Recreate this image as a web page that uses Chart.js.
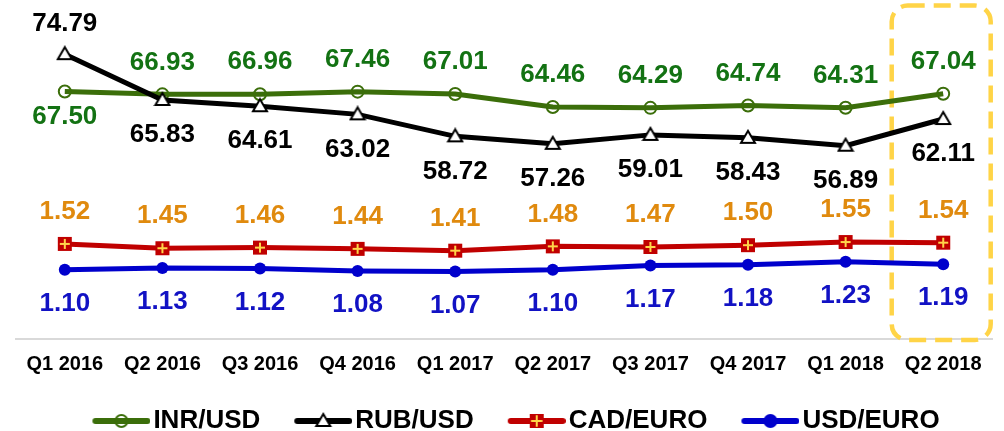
<!DOCTYPE html>
<html>
<head>
<meta charset="utf-8">
<script src="https://cdn.jsdelivr.net/npm/chart.js@4.4.1/dist/chart.umd.min.js"></script>
<style>
  html, body { margin: 0; padding: 0; background: #fff; }
  #wrap { width: 1004px; height: 431px; }
</style>
</head>
<body>
<div id="wrap"><canvas id="fxChart" width="1004" height="431"></canvas></div>
<script>
// data
const quarters = ["Q1 2016", "Q2 2016", "Q3 2016", "Q4 2016", "Q1 2017", "Q2 2017", "Q3 2017", "Q4 2017", "Q1 2018", "Q2 2018"];
const inrUsd  = [67.50, 66.93, 66.96, 67.46, 67.01, 64.46, 64.29, 64.74, 64.31, 67.04];
const rubUsd  = [74.79, 65.83, 64.61, 63.02, 58.72, 57.26, 59.01, 58.43, 56.89, 62.11];
const cadEuro = [1.52, 1.45, 1.46, 1.44, 1.41, 1.48, 1.47, 1.50, 1.55, 1.54];
const usdEuro = [1.10, 1.13, 1.12, 1.08, 1.07, 1.10, 1.17, 1.18, 1.23, 1.19];

const FONT = "'Liberation Sans', Arial, sans-serif";

// markers
function circleMark(g, x, y, stroke, fill) {
  g.beginPath();
  g.arc(x, y, 6, 0, Math.PI * 2);
  if (fill) { g.fillStyle = fill; g.fill(); }
  g.lineWidth = 2; g.strokeStyle = stroke; g.stroke();
}
function triMark(g, x, y) {
  g.beginPath();
  g.moveTo(x, y - 7); g.lineTo(x + 7, y + 5); g.lineTo(x - 7, y + 5); g.closePath();
  g.fillStyle = "#fff"; g.fill();
  g.lineWidth = 2; g.strokeStyle = "#000"; g.stroke();
}
function cadMark(g, x, y) {
  g.fillStyle = "#C00000";
  g.fillRect(x - 7, y - 7, 14, 14);
  g.strokeStyle = "#FFD54A"; g.lineWidth = 2;
  g.beginPath();
  g.moveTo(x, y - 5); g.lineTo(x, y + 5);
  g.moveTo(x - 5, y); g.lineTo(x + 5, y);
  g.stroke();
}
function markCanvas(w, h, draw) {
  const c = document.createElement("canvas");
  c.width = w; c.height = h;
  draw(c.getContext("2d"), w / 2, h / 2);
  return c;
}
function legendIcon(color, draw) {
  const c = document.createElement("canvas");
  c.width = 92; c.height = 22;
  const g = c.getContext("2d");
  g.strokeStyle = color; g.lineWidth = 6; g.lineCap = "round";
  g.beginPath(); g.moveTo(37, 11); g.lineTo(89, 11); g.stroke();
  draw(g, 63, 11);
  return c;
}

const cadPoint = markCanvas(16, 16, cadMark);

const valueLabels = {
  id: "valueLabels",
  afterDatasetsDraw(chart) {
    const ctx = chart.ctx;
    chart.data.datasets.forEach((ds, i) => {
      const meta = chart.getDatasetMeta(i);
      ctx.save();
      ctx.font = "bold 26px " + FONT;
      ctx.fillStyle = ds.labelColor;
      ctx.textAlign = "center";
      ctx.textBaseline = "middle";
      meta.data.forEach((pt, j) => {
        ctx.fillText(ds.data[j].toFixed(2), pt.x, pt.y + ds.labelOffset(j));
      });
      ctx.restore();
    });
  }
};

const highlightBox = {
  id: "highlightBox",
  beforeDatasetsDraw(chart) {
    const ctx = chart.ctx;
    const cx = chart.scales.x.getPixelForValue(quarters.length - 1);
    const left = cx - 51.5, right = cx + 47.5, top = 5.5, bottom = 340;
    ctx.save();
    ctx.strokeStyle = "#FFD447";
    ctx.lineWidth = 4.5;
    ctx.setLineDash([17, 9]);
    ctx.beginPath();
    ctx.roundRect(left, top, right - left, bottom - top, 16);
    ctx.stroke();
    ctx.restore();
  }
};

new Chart(document.getElementById("fxChart"), {
  type: "line",
  data: {
    labels: quarters,
    datasets: [
      {
        label: "INR/USD", data: inrUsd, yAxisID: "y", order: 2,
        borderColor: "#3B6E0A", borderWidth: 5,
        pointStyle: "circle", pointRadius: 6, pointBorderWidth: 2,
        pointBorderColor: "#3B6E0A", pointBackgroundColor: "rgba(0,0,0,0)",
        labelColor: "#137213", labelOffset: j => (j === 0 ? 25 : -32),
        legendIcon: legendIcon("#3B6E0A", (g, x, y) => circleMark(g, x, y, "#3B6E0A", null))
      },
      {
        label: "RUB/USD", data: rubUsd, yAxisID: "y", order: 1,
        borderColor: "#000", borderWidth: 5,
        pointStyle: markCanvas(18, 18, triMark), pointRadius: 7,
        labelColor: "#000", labelOffset: j => (j === 0 ? -30 : 35),
        legendIcon: legendIcon("#000", triMark)
      },
      {
        label: "CAD/EURO", data: cadEuro, yAxisID: "y2", order: 3,
        borderColor: "#C00000", borderWidth: 5,
        pointStyle: cadPoint, pointRadius: 7,
        labelColor: "#E08A0E", labelOffset: () => -32,
        legendIcon: legendIcon("#C00000", cadMark)
      },
      {
        label: "USD/EURO", data: usdEuro, yAxisID: "y2", order: 4,
        borderColor: "#0000CC", borderWidth: 5,
        pointStyle: "circle", pointRadius: 6, pointBorderWidth: 0,
        pointBackgroundColor: "#0000CC",
        labelColor: "#1212C4", labelOffset: () => 34,
        legendIcon: legendIcon("#0000CC", (g, x, y) => circleMark(g, x, y, "#0000CC", "#0000CC"))
      }
    ]
  },
  options: {
    responsive: false,
    animation: false,
    layout: { padding: { left: 16, right: 12, top: 10, bottom: -13 } },
    scales: {
      x: {
        offset: true,
        grid: { display: false, drawTicks: false },
        border: { display: true, color: "#D9D9D9", width: 2 },
        ticks: { color: "#000", padding: 14, font: { family: FONT, size: 20, weight: "bold" } },
        title: { display: true, text: " ", font: { size: 1 }, padding: { top: 2, bottom: 4 } }
      },
      y: { display: false, min: 19.15, max: 83.03 },
      y2: { display: false, min: -0.021, max: 5.2855 }
    },
    plugins: {
      tooltip: { enabled: false },
      legend: {
        position: "bottom",
        labels: {
          usePointStyle: true,
          pointStyleWidth: 72,
          boxHeight: 22,
          padding: 10,
          color: "#000",
          font: { family: FONT, size: 26, weight: "bold" },
          generateLabels(chart) {
            return chart.data.datasets.map((ds, i) => ({
              text: ds.label,
              pointStyle: ds.legendIcon,
              fillStyle: ds.borderColor,
              strokeStyle: ds.borderColor,
              lineWidth: 0,
              fontColor: "#000",
              hidden: false,
              datasetIndex: i
            }));
          }
        }
      }
    }
  },
  plugins: [highlightBox, valueLabels]
});
</script>
</body>
</html>
